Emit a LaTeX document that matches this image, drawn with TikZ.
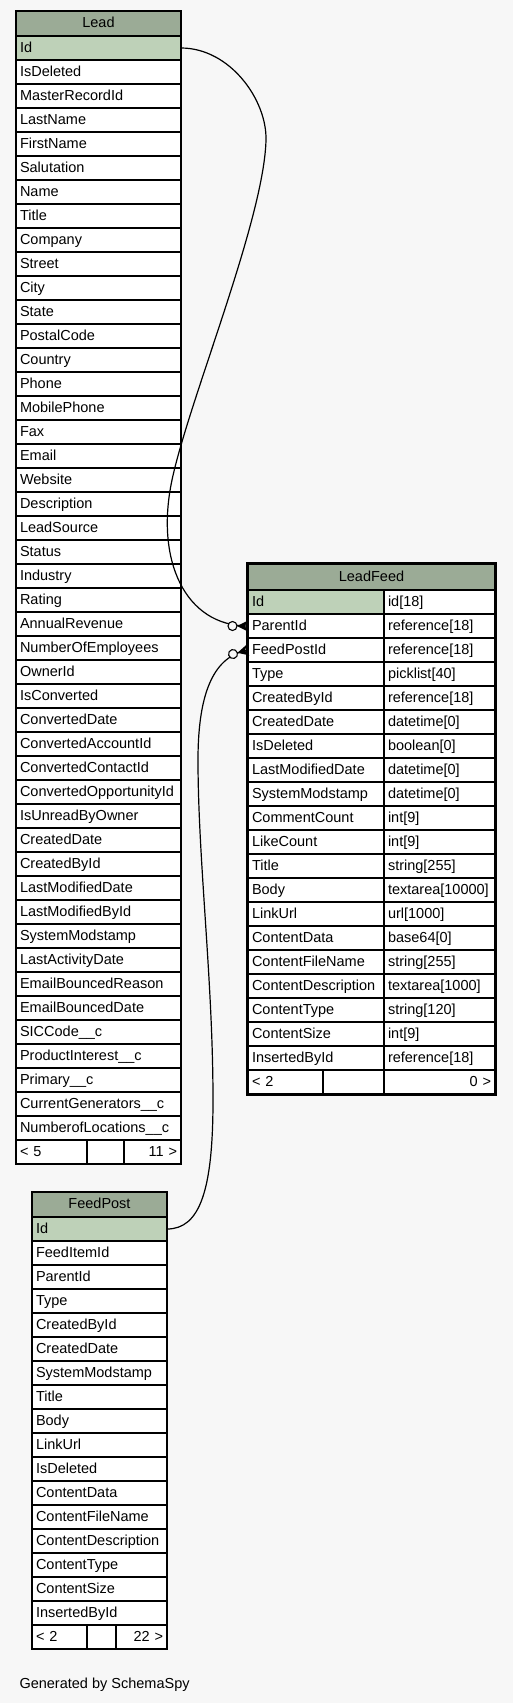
\documentclass[tikz,border=0pt]{standalone}
\usepackage{fontspec}
\setmainfont{Liberation Sans}

\definecolor{bgcol}{HTML}{F7F7F7}
\definecolor{headcol}{HTML}{9BAB96}
\definecolor{keycol}{HTML}{BED1B8}

% zero-or-many end: open circle and crow's foot at the table edge
\newcommand{\crowodot}[2]{%
  \begin{scope}[shift={#1},rotate=#2]
    \fill (-11,0) -- (0,-5.5) -- (-3,0) -- (0,5.5) -- cycle;
    \draw[line width=1.1pt,fill=bgcol] (-15.5,0) circle (4.5pt);
  \end{scope}}

\tikzset{
  cell/.style={draw,line width=1.2pt,fill=white,anchor=north west,outer sep=0pt,
    inner xsep=4pt,inner ysep=0pt,minimum height=24pt,
    text height=10.5pt,text depth=2.5pt,font=\fontsize{14.5}{17}\selectfont},
  head/.style={cell,fill=headcol,align=center,minimum height=25pt},
  link/.style={line width=1.2pt}
}

\begin{document}
\begin{tikzpicture}[x=1pt,y=-1pt]
  \fill[bgcol] (0,0) rectangle (513,1703);
  \useasboundingbox (0,0) rectangle (513,1703);

  % Lead
  \node[head,text width=157pt] (lead) at (16,11) {Lead};
  \node[cell,fill=keycol,text width=157pt,align=left] (lead-id) at (16,36) {Id};
  \foreach \fld [count=\i] in {IsDeleted,MasterRecordId,LastName,FirstName,Salutation,
      Name,Title,Company,Street,City,State,PostalCode,Country,Phone,MobilePhone,Fax,
      Email,Website,Description,LeadSource,Status,Industry,Rating,AnnualRevenue,
      NumberOfEmployees,OwnerId,IsConverted,ConvertedDate,ConvertedAccountId,
      ConvertedContactId,ConvertedOpportunityId,IsUnreadByOwner,CreatedDate,CreatedById,
      LastModifiedDate,LastModifiedById,SystemModstamp,LastActivityDate,
      EmailBouncedReason,EmailBouncedDate,SICCode\_\_c,ProductInterest\_\_c,
      Primary\_\_c,CurrentGenerators\_\_c,NumberofLocations\_\_c}
    \node[cell,text width=157pt,align=left] (lead-\i) at (16,{36+24*\i}) {\fld};
  \node[cell,text width=63pt,align=left] (lead-f1) at (16,1140) {< 5};
  \node[cell,text width=29pt] (lead-f2) at (87,1140) {};
  \node[cell,text width=49pt,align=right] (lead-f3) at (124,1140) {11 >};

  % LeadFeed
  \node[head,text width=239pt,minimum height=26pt] (lf) at (248,564) {LeadFeed};
  \node[cell,fill=keycol,text width=128pt,align=left] (lf-id) at (248,590) {Id};
  \node[cell,text width=103pt,align=left] (lf-idt) at (384,590) {id[18]};
  \foreach \fld/\typ [count=\i] in {ParentId/reference[18],FeedPostId/reference[18],
      Type/picklist[40],CreatedById/reference[18],CreatedDate/datetime[0],
      IsDeleted/boolean[0],LastModifiedDate/datetime[0],SystemModstamp/datetime[0],
      CommentCount/int[9],LikeCount/int[9],Title/string[255],Body/textarea[10000],
      LinkUrl/url[1000],ContentData/base64[0],ContentFileName/string[255],
      ContentDescription/textarea[1000],ContentType/string[120],ContentSize/int[9],
      InsertedById/reference[18]}
  {
    \node[cell,text width=128pt,align=left] (lf-\i) at (248,{590+24*\i}) {\fld};
    \node[cell,text width=103pt,align=left] (lf-\i t) at (384,{590+24*\i}) {\typ};
  }
  \node[cell,text width=67pt,align=left] (lf-f1) at (248,1070) {< 2};
  \node[cell,text width=53pt] (lf-f2) at (323,1070) {};
  \node[cell,text width=103pt,align=right] (lf-f3) at (384,1070) {0 >};
  \draw[line width=2.5pt] (247.5,563.5) rectangle (495.5,1094.5);

  % FeedPost
  \node[head,text width=127pt] (fp) at (32,1192) {FeedPost};
  \node[cell,fill=keycol,text width=127pt,align=left] (fp-id) at (32,1217) {Id};
  \foreach \fld [count=\i] in {FeedItemId,ParentId,Type,CreatedById,CreatedDate,
      SystemModstamp,Title,Body,LinkUrl,IsDeleted,ContentData,ContentFileName,
      ContentDescription,ContentType,ContentSize,InsertedById}
    \node[cell,text width=127pt,align=left] (fp-\i) at (32,{1217+24*\i}) {\fld};
  \node[cell,text width=47pt,align=left] (fp-f1) at (32,1625) {< 2};
  \node[cell,text width=21pt] (fp-f2) at (87,1625) {};
  \node[cell,text width=43pt,align=right] (fp-f3) at (116,1625) {22 >};

  % relations
  \draw[link] (lead-id.east) .. controls (230,48) and (267,100) .. (266,140)
    .. controls (264,220) and (189,400) .. (172,480)
    .. controls (155,560) and (185,626) .. (lf-1.west);
  \crowodot{(lf-1.west)}{0}
  \draw[link] (fp-id.east) .. controls (200,1229) and (213,1190) .. (213,1100)
    .. controls (213,980) and (198,860) .. (198,760)
    .. controls (198,690) and (215,656) .. (lf-2.west);
  \crowodot{(lf-2.west)}{15}

  \node[anchor=base west,font=\fontsize{14.5}{17}\selectfont] (credit) at (16,1688)
    {Generated by SchemaSpy};
\end{tikzpicture}
\end{document}
